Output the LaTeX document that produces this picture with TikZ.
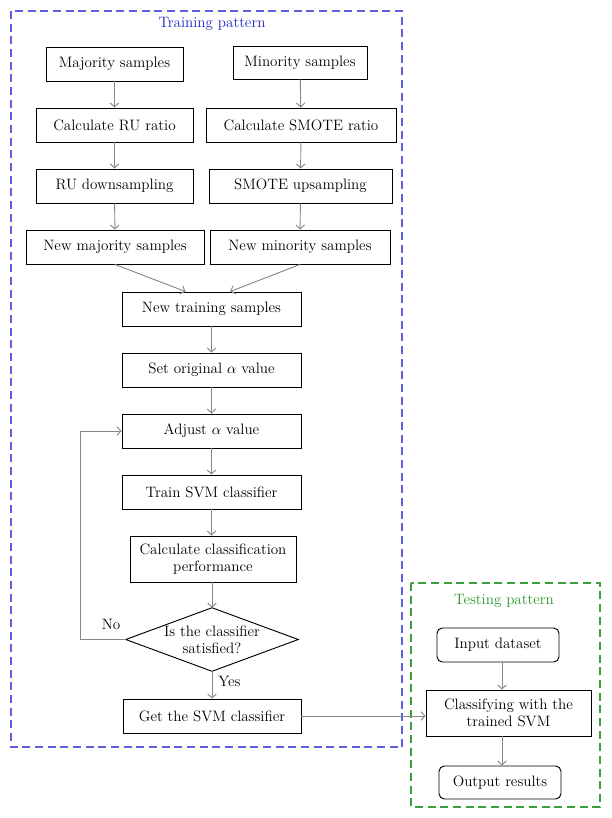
\documentclass[tikz,border=0pt]{standalone}
\usepackage{amsmath}
\usepackage{amssymb}
\usepackage{tikz}
\usetikzlibrary{arrows.meta}

\definecolor{trainblue}{RGB}{95,95,225}
\definecolor{traintext}{RGB}{35,35,200}
\definecolor{testgreen}{RGB}{60,160,60}
\definecolor{testtext}{RGB}{40,150,40}
\definecolor{linkgray}{RGB}{135,135,135}

\begin{document}
\begin{tikzpicture}[x=0.75pt,y=0.75pt,yscale=-1,
  blk/.style={draw,line width=0.7pt,inner sep=1pt,minimum height=25.5pt,align=center,font=\fontsize{11.3}{13}\selectfont},
  rblk/.style={blk,rounded corners=4pt},
  flow/.style={draw=linkgray,line width=0.7pt,-{Straight Barb[length=3pt,width=6.5pt]}},
  lbl/.style={inner sep=0.75pt,font=\fontsize{11.3}{13}\selectfont}]
\useasboundingbox (0,0) rectangle (611,818);

%Shape: training frame
\draw [trainblue, dash pattern=on 6pt off 3.5pt, line width=0.9pt] (11,11) rectangle (402,747) ;
%Shape: testing frame
\draw [testgreen, dash pattern=on 6pt off 3.5pt, line width=0.8pt] (411,583) rectangle (600,807) ;

% Text Node
\node (trtitle) at (212,24) [lbl, text=traintext] {Training pattern};
% Text Node
\node (tstitle) at (504,601) [lbl, text=testtext] {Testing pattern};

% left column
\node (maj) at (114.5,64) [blk, minimum width=102.75pt] {Majority samples};
\node (calru) at (114.5,125) [blk, minimum width=117.75pt] {Calculate RU ratio};
\node (rudown) at (114.5,186) [blk, minimum width=117.75pt] {RU downsampling};
\node (newmaj) at (115,247) [blk, minimum width=133.5pt] {New majority samples};
% right column
\node (mino) at (300,62.5) [blk, minimum width=100.5pt, minimum height=24.75pt] {Minority samples};
\node (calsm) at (301,125) [blk, minimum width=142.5pt] {Calculate SMOTE ratio};
\node (smup) at (300.5,186) [blk, minimum width=137.25pt] {SMOTE upsampling};
\node (newmin) at (300,247) [blk, minimum width=135pt] {New minority samples};
% middle column
\node (newtr) at (211.5,309) [blk, minimum width=134.25pt] {New training samples};
\node (setal) at (211.5,370) [blk, minimum width=134.25pt] {Set original $\alpha$ value};
\node (adjal) at (211.5,431) [blk, minimum width=134.25pt] {Adjust $\alpha$ value};
\node (trsvm) at (211.5,492) [blk, minimum width=134.25pt] {Train SVM classifier};
\node (perf) at (213,559) [blk, minimum width=124.5pt, minimum height=34.5pt] {Calculate classification\\performance};
\node (dec) at (212,639.5) [lbl, minimum width=129pt, minimum height=47.25pt, align=center, font=\fontsize{11.3}{12.5}\selectfont] {Is the classifier\\satisfied?};
\draw [line width=0.7pt] (dec.west) -- (dec.north) -- (dec.east) -- (dec.south) -- cycle ;
\node (getsvm) at (212,716) [blk, minimum width=133.5pt] {Get the SVM classifier};
% testing column
\node (inds) at (498,645) [rblk, minimum width=91.5pt] {Input dataset};
\node (clsf) at (508.5,713) [blk, minimum width=123.75pt, minimum height=34.5pt] {Classifying with the\\trained SVM};
\node (outr) at (500,782.5) [rblk, minimum width=91.5pt, minimum height=24.75pt] {Output results};

% Text Node
\node (nolbl) at (111,624) [lbl] {No};
% Text Node
\node (yeslbl) at (217,681) [lbl, anchor=west] {Yes};

%Straight Lines
\draw [flow] (maj) -- (calru) ;
\draw [flow] (calru) -- (rudown) ;
\draw [flow] (rudown) -- (newmaj) ;
\draw [flow] (mino) -- (calsm) ;
\draw [flow] (calsm) -- (smup) ;
\draw [flow] (smup) -- (newmin) ;
\draw [flow] (newmaj.south) -- ([xshift=-19.5pt]newtr.north) ;
\draw [flow] (newmin.south) -- ([xshift=14pt]newtr.north) ;
\draw [flow] (newtr) -- (setal) ;
\draw [flow] (setal) -- (adjal) ;
\draw [flow] (adjal) -- (trsvm) ;
\draw [flow] (trsvm.south) -- (perf.north -| trsvm.south) ;
\draw [flow] (perf.south -| dec.north) -- (dec.north) ;
\draw [flow] (dec.west) -- ++(-33.75pt,0) |- (adjal.west) ;
\draw [flow] (dec.south) -- (getsvm.north -| dec.south) ;
\draw [flow] (getsvm.east) -- (getsvm.east -| clsf.west) ;
\draw [flow] (inds.south -| 502,0) -- (clsf.north -| 502,0) ;
\draw [flow] (clsf.south -| 502,0) -- (outr.north -| 502,0) ;

\end{tikzpicture}
\end{document}
